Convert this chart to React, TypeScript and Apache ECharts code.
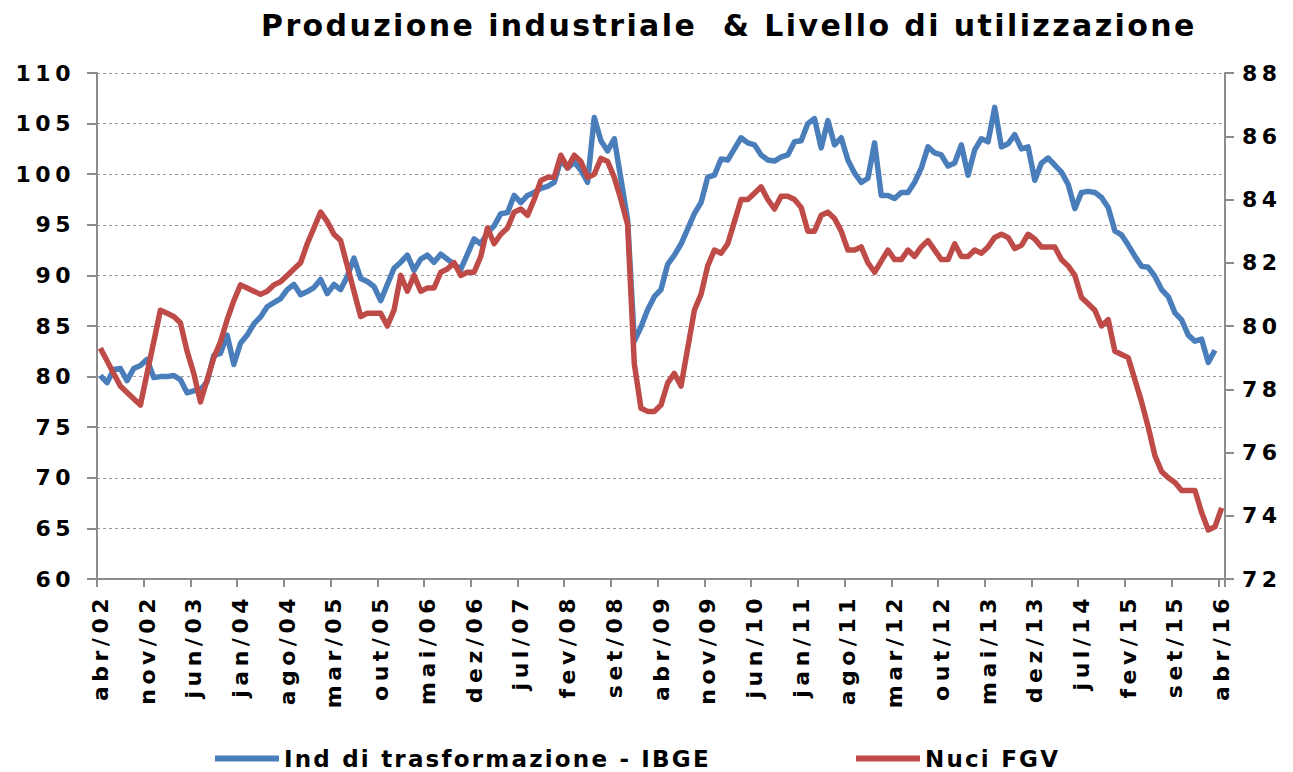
import React, { useEffect, useRef } from "react";
import * as echarts from "echarts";

const monthNames = ["jan", "fev", "mar", "abr", "mai", "jun", "jul", "ago", "set", "out", "nov", "dez"];
const startYear = 2002;
const startMonth = 3; // abr
const monthCount = 169; // abr/02 .. abr/16

const categories: string[] = [];
for (let k = 0; k < monthCount; k++) {
  const m = (startMonth + k) % 12;
  const y = startYear + Math.floor((startMonth + k) / 12);
  categories.push(monthNames[m] + "/" + String(y % 100).padStart(2, "0"));
}

// Ind di trasformazione - IBGE (left axis)
const ibge = [
  80.1, 79.4, 80.7, 80.8, 79.6, 80.8, 81.1, 81.7, 79.9, 80.0, 80.0, 80.1,
  79.7, 78.4, 78.6, 78.7, 79.5, 82.1, 82.3, 84.1, 81.2, 83.3, 84.1, 85.2,
  85.9, 86.9, 87.3, 87.7, 88.6, 89.1, 88.1, 88.4, 88.8, 89.6, 88.2, 89.1,
  88.6, 89.9, 91.7, 89.7, 89.4, 88.9, 87.5, 89.1, 90.7, 91.3, 92.0, 90.5,
  91.6, 92.0, 91.3, 92.1, 91.6, 91.1, 90.6, 92.1, 93.6, 93.1, 94.2, 94.9,
  96.1, 96.2, 97.9, 97.2, 97.9, 98.2, 98.6, 98.8, 99.2, 101.4, 100.6, 101.2,
  100.4, 99.2, 105.6, 103.3, 102.3, 103.5, 99.5, 95.5, 83.5, 84.9, 86.6, 87.9,
  88.6, 91.1, 92.0, 93.1, 94.6, 96.1, 97.2, 99.7, 99.9, 101.5, 101.4, 102.5,
  103.6, 103.1, 102.9, 101.9, 101.4, 101.3, 101.7, 101.9, 103.2, 103.3, 105.0, 105.5,
  102.6, 105.3, 102.9, 103.6, 101.4, 100.1, 99.2, 99.6, 103.1, 97.9, 97.9, 97.6,
  98.2, 98.2, 99.2, 100.6, 102.7, 102.1, 101.9, 100.8, 101.1, 102.9, 99.9, 102.4,
  103.5, 103.2, 106.6, 102.7, 103.0, 103.9, 102.5, 102.7, 99.4, 101.1, 101.6, 100.9,
  100.2, 99.0, 96.6, 98.2, 98.3, 98.2, 97.7, 96.7, 94.4, 94.0, 93.0, 91.9,
  90.9, 90.8, 89.9, 88.6, 87.9, 86.3, 85.6, 84.1, 83.5, 83.7, 81.4, 82.6,
];

// Nuci FGV (right axis)
const nuci = [
  79.3, 78.9, 78.5, 78.1, 77.9, 77.7, 77.5, 78.5, 79.5, 80.5, 80.4, 80.3,
  80.1, 79.2, 78.5, 77.6, 78.3, 79.0, 79.5, 80.2, 80.8, 81.3, 81.2, 81.1,
  81.0, 81.1, 81.3, 81.4, 81.6, 81.8, 82.0, 82.6, 83.1, 83.6, 83.3, 82.9,
  82.7, 81.9, 81.1, 80.3, 80.4, 80.4, 80.4, 80.0, 80.5, 81.6, 81.1, 81.6,
  81.1, 81.2, 81.2, 81.7, 81.8, 82.0, 81.6, 81.7, 81.7, 82.2, 83.1, 82.6,
  82.9, 83.1, 83.6, 83.7, 83.5, 84.0, 84.6, 84.7, 84.7, 85.4, 85.0, 85.4,
  85.2, 84.7, 84.8, 85.3, 85.2, 84.7, 84.0, 83.2, 78.8, 77.4, 77.3, 77.3,
  77.5, 78.2, 78.5, 78.1, 79.3, 80.5, 81.0, 81.9, 82.4, 82.3, 82.6, 83.3,
  84.0, 84.0, 84.2, 84.4, 84.0, 83.7, 84.1, 84.1, 84.0, 83.75, 83.0, 83.0,
  83.5, 83.6, 83.4, 83.0, 82.4, 82.4, 82.5, 82.0, 81.7, 82.05, 82.4, 82.1,
  82.1, 82.4, 82.2, 82.5, 82.7, 82.4, 82.1, 82.1, 82.6, 82.2, 82.2, 82.4,
  82.3, 82.5, 82.8, 82.9, 82.8, 82.45, 82.55, 82.9, 82.75, 82.5, 82.5, 82.5,
  82.1, 81.9, 81.6, 80.9, 80.7, 80.5, 80.0, 80.2, 79.2, 79.1, 79.0, 78.3,
  77.6, 76.8, 75.9, 75.4, 75.2, 75.05, 74.8, 74.8, 74.8, 74.1, 73.55, 73.65,
  74.25,
];

const seriesNames = ["Ind di trasformazione - IBGE", "Nuci FGV"];
const colors = ["#4A7EBB", "#BE4B48"];
const titleText = "Produzione industriale  & Livello di utilizzazione";

const FONT = "'DejaVu Sans', Verdana, sans-serif";
const AXIS_COLOR = "#8c8c8c";
const AXIS_FS = 22;
const LEGEND_FS = 23;
const TITLE_FS = 30;
// wide tracking of the original rendering, keyed by font size
const trackingBySize: Record<number, number> = { 22: 4.5, 23: 2.2, 30: 2.4 };

export default function App() {
  const ref = useRef<HTMLDivElement>(null);
  useEffect(() => {
    if (!ref.current) return;
    const el = ref.current;
    const chart = echarts.init(el, undefined, { renderer: "svg" });
    const labelStyle = { color: "#000", fontSize: AXIS_FS, fontWeight: "bold" as const, fontFamily: FONT };
    const legendStyle = { color: "#000", fontSize: LEGEND_FS, fontWeight: "bold" as const, fontFamily: FONT };
    chart.setOption({
      animation: false,
      backgroundColor: "#fff",
      title: {
        text: titleText,
        left: 256,
        top: 5,
        textStyle: { color: "#000", fontSize: TITLE_FS, fontWeight: "bold", fontFamily: FONT },
      },
      legend: [
        {
          data: [seriesNames[0]],
          left: 215,
          top: 747,
          padding: 0,
          icon: "rect",
          itemWidth: 64,
          itemHeight: 6,
          textStyle: { ...legendStyle },
        },
        {
          data: [seriesNames[1]],
          left: 856,
          top: 747,
          padding: 0,
          icon: "rect",
          itemWidth: 64,
          itemHeight: 6,
          textStyle: { ...legendStyle },
        },
      ],
      grid: { left: 97, right: 68, top: 73, bottom: 193, containLabel: false },
      xAxis: {
        type: "category",
        data: categories,
        boundaryGap: true,
        axisLine: { show: true, lineStyle: { color: AXIS_COLOR, width: 2 } },
        axisTick: { show: true, interval: 6, length: 8, lineStyle: { color: AXIS_COLOR, width: 2 } },
        axisLabel: { ...labelStyle, interval: 6, rotate: 90, margin: 15 },
        splitLine: { show: false },
      },
      yAxis: [
        {
          type: "value",
          min: 60,
          max: 110,
          interval: 5,
          position: "left",
          axisLine: { show: true, lineStyle: { color: AXIS_COLOR, width: 2 } },
          axisTick: { show: true, length: 10, lineStyle: { color: AXIS_COLOR, width: 2 } },
          axisLabel: { ...labelStyle, margin: 22 },
          splitLine: { show: true, lineStyle: { color: "#9a9a9a", width: 1, type: [3, 3] } },
        },
        {
          type: "value",
          min: 72,
          max: 88,
          interval: 2,
          position: "right",
          axisLine: { show: true, lineStyle: { color: AXIS_COLOR, width: 2 } },
          axisTick: { show: true, length: 9, lineStyle: { color: AXIS_COLOR, width: 2 } },
          axisLabel: { ...labelStyle, margin: 17 },
          splitLine: { show: false },
        },
      ],
      series: [
        {
          name: seriesNames[0],
          type: "line",
          yAxisIndex: 0,
          data: ibge,
          symbol: "none",
          lineStyle: { color: colors[0], width: 5.5, join: "round" },
          itemStyle: { color: colors[0] },
        },
        {
          name: seriesNames[1],
          type: "line",
          yAxisIndex: 1,
          data: nuci,
          symbol: "none",
          lineStyle: { color: colors[1], width: 5.5, join: "round" },
          itemStyle: { color: colors[1] },
        },
      ],
    });
    const applyTracking = () => {
      el.querySelectorAll("text").forEach((t) => {
        const fs = Math.round(parseFloat(getComputedStyle(t).fontSize));
        const sp = trackingBySize[fs];
        if (sp) (t as SVGTextElement).style.letterSpacing = sp + "px";
      });
    };
    applyTracking();
    chart.on("finished", applyTracking);
    return () => chart.dispose();
  }, []);
  return <div ref={ref} style={{ position: "absolute", left: 0, top: 0, width: 1293, height: 772 }} />;
}
